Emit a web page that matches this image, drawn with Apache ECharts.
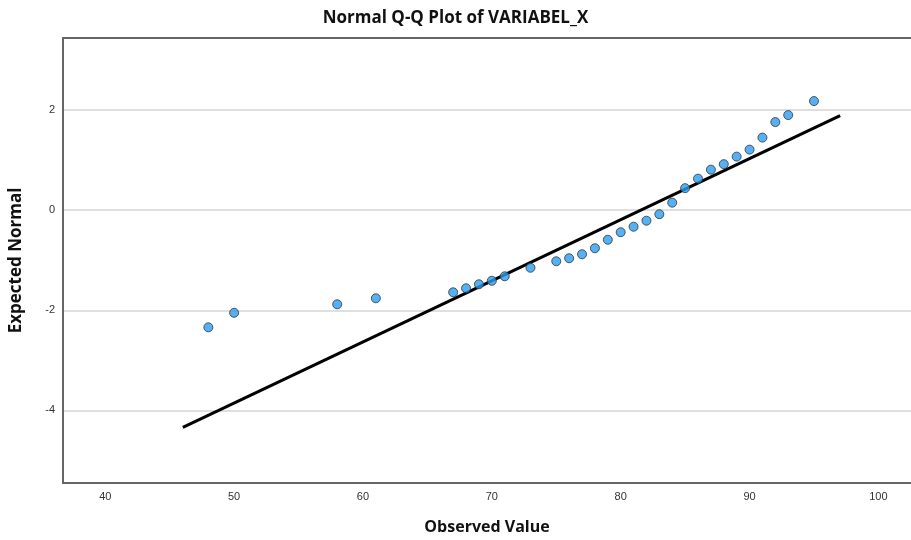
<!DOCTYPE html>
<html lang="en">
<head>
    <meta charset="UTF-8">
    <title>Normal Q-Q Plot</title>
</head>
<style>
    html, body { margin: 0; padding: 0; background: #fff; }
    #chart { width: 911px; height: 540px; }
</style>
<body>
<div id="chart"></div>
</body>
<script src="https://cdn.jsdelivr.net/npm/echarts@6/dist/echarts.min.js"></script>
<script>
    // observed values and their expected normal quantiles
    var observed = [48, 50, 58, 61, 67, 68, 69, 70, 71, 73, 75, 76, 77, 78, 79,
                    80, 81, 82, 83, 84, 85, 86, 87, 88, 89, 90, 91, 92, 93, 95];
    var expected = [-2.34, -2.05, -1.88, -1.76, -1.64, -1.56, -1.48, -1.41, -1.32, -1.15,
                    -1.02, -0.96, -0.88, -0.76, -0.59, -0.44, -0.33, -0.21, -0.08, 0.15,
                    0.44, 0.63, 0.81, 0.92, 1.07, 1.21, 1.45, 1.76, 1.90, 2.18];
    // reference line end points
    var lineX = [46.02, 97.03];
    var lineY = [-4.34, 1.89];
    var xTicks = [40, 50, 60, 70, 80, 90, 100];
    var yTicks = [-4, -2, 0, 2];

    var points = [];
    for (var i = 0; i < observed.length; i++) {
        points.push([observed[i], expected[i]]);
    }
    var refLine = [[lineX[0], lineY[0]], [lineX[1], lineY[1]]];

    var frameLine = { show: true, onZero: false, lineStyle: { color: '#666', width: 2 } };
    var xMin = 36.72, xMax = 102.53;

    var chart = echarts.init(document.getElementById('chart'));
    var option = {
        backgroundColor: '#fff',
        animation: false,
        title: {
            text: 'Normal Q-Q Plot of VARIABEL_X',
            left: 'center',
            top: 5,
            textStyle: {
                fontFamily: 'Open Sans',
                fontWeight: 'bold',
                fontSize: 17,
                color: '#111'
            }
        },
        grid: {
            left: 62,
            right: 0,
            top: 38,
            bottom: 52
        },
        xAxis: [{
            type: 'value',
            min: xMin,
            max: xMax,
            name: 'Observed Value',
            nameLocation: 'middle',
            nameGap: 36,
            nameTextStyle: {
                fontFamily: 'Open Sans',
                fontWeight: 'bold',
                fontSize: 16,
                color: '#111'
            },
            axisLine: frameLine,
            axisTick: { show: false, customValues: xTicks },
            axisLabel: {
                customValues: xTicks,
                color: '#333',
                fontSize: 11,
                margin: 8
            },
            splitLine: { show: false }
        }, {
            // top edge of the frame only
            type: 'value',
            position: 'top',
            min: xMin,
            max: xMax,
            axisLine: frameLine,
            axisTick: { show: false },
            axisLabel: { show: false },
            splitLine: { show: false }
        }],
        yAxis: {
            type: 'value',
            min: -5.45,
            max: 3.44,
            name: 'Expected Normal',
            nameLocation: 'middle',
            nameGap: 38,
            nameTextStyle: {
                fontFamily: 'Open Sans',
                fontWeight: 'bold',
                fontSize: 17,
                color: '#111'
            },
            axisLine: frameLine,
            axisTick: { show: false, customValues: yTicks },
            axisLabel: {
                customValues: yTicks,
                color: '#333',
                fontSize: 11,
                margin: 8
            },
            splitLine: { show: true, lineStyle: { color: '#d4d4d4', width: 1.5 } }
        },
        series: [
            {
                type: 'line',
                data: refLine,
                symbol: 'none',
                lineStyle: { color: '#000', width: 3 },
                z: 3
            },
            {
                type: 'scatter',
                data: points,
                symbol: 'circle',
                symbolSize: 9,
                itemStyle: {
                    color: '#2a9df4',
                    borderColor: '#333',
                    borderWidth: 1
                },
                z: 4
            }
        ]
    };
    chart.setOption(option);
</script>
</html>
